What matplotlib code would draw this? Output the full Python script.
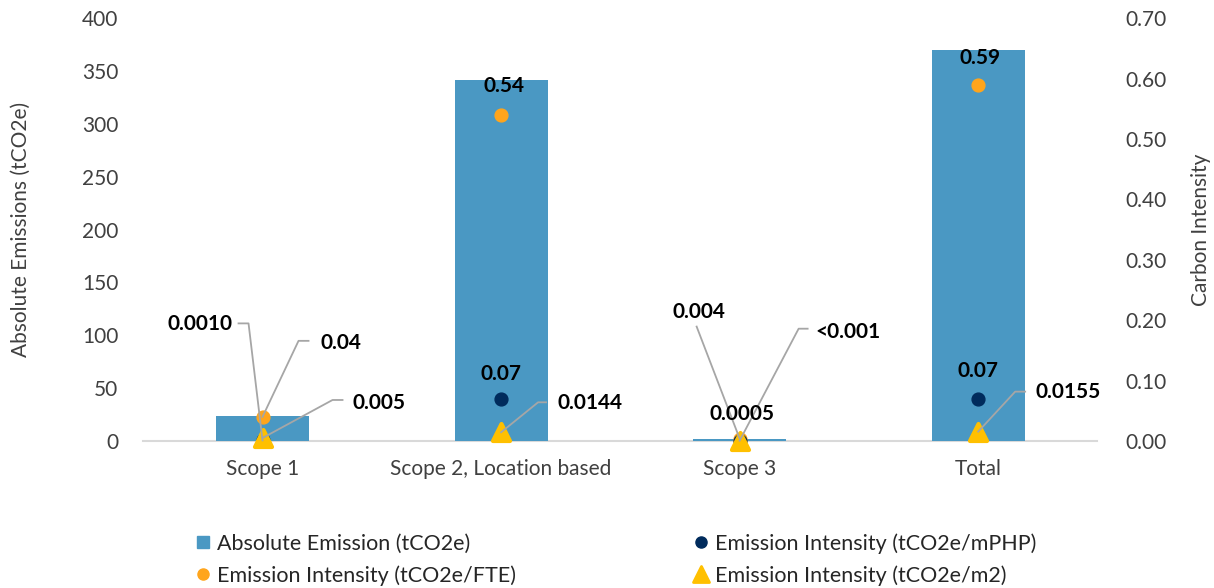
import matplotlib
matplotlib.use("Agg")
import matplotlib.pyplot as plt
from matplotlib.lines import Line2D
from matplotlib.markers import MarkerStyle
from matplotlib.transforms import IdentityTransform

plt.rcParams['font.family'] = ['Lato', 'DejaVu Sans']

categories = ["Scope 1", "Scope 2, Location based", "Scope 3", "Total"]
absolute = [24, 342, 2, 370]              # tCO2e
per_fte = [0.04, 0.54, 0.004, 0.59]       # tCO2e/FTE
per_mphp = [0.0010, 0.07, 0.0005, 0.07]   # tCO2e/mPHP
per_m2 = [0.005, 0.0144, 0.0005, 0.0155]  # tCO2e/m2

fte_labels = ["0.04", "0.54", "0.004", "0.59"]
mphp_labels = ["0.0010", "0.07", "0.0005", "0.07"]
m2_labels = ["0.005", "0.0144", "<0.001", "0.0155"]

BAR = "#4a98c3"
ORANGE = "#ffa51c"
NAVY = "#002b5c"
YELLOW = "#ffc000"
LEADER = "#a6a6a6"
TICK = "#404040"
FS = 15

fig = plt.figure(figsize=(12.14, 5.88), dpi=100)
fig.subplots_adjust(left=0.118, right=0.904, top=0.969, bottom=0.25)
ax = fig.add_subplot(111)
ax2 = ax.twinx()

x = list(range(len(categories)))
ax.bar(x, absolute, width=0.39, color=BAR, zorder=3)
ax.set_xlim(-0.5, 3.5)
ax.set_ylim(0, 400)
ax.set_yticks(range(0, 401, 50))
ax2.set_ylim(0, 0.70)
ax2.set_yticks([i / 10 for i in range(8)])
ax2.set_yticklabels(["%.2f" % (i / 10) for i in range(8)])
ax.set_xticks(x)
ax.set_xticklabels(categories)

for a in (ax, ax2):
    for s in a.spines.values():
        s.set_visible(False)
    a.tick_params(length=0, labelsize=FS, labelcolor=TICK)
ax.spines['bottom'].set_visible(True)
ax.spines['bottom'].set_color("#d9d9d9")
ax.spines['bottom'].set_linewidth(1.5)
ax.tick_params(axis='x', pad=13)
ax.tick_params(axis='y', pad=18)
ax2.tick_params(axis='y', pad=20)

ax.set_ylabel("Absolute Emissions (tCO2e)", fontsize=FS, color=TICK, labelpad=37)
ax2.set_ylabel("Carbon Intensity", fontsize=FS, color=TICK, labelpad=18)

tri = MarkerStyle('^', joinstyle='round')
ax2.scatter(x, per_fte, s=85, color=ORANGE, zorder=3, clip_on=False)
ax2.scatter(x, per_mphp, s=85, color=NAVY, zorder=3, clip_on=False)
ax2.scatter(x, per_m2, s=150, marker=tri, color=YELLOW, edgecolors=YELLOW,
            linewidths=3, zorder=4, clip_on=False)


def leader(xv, yv, pts):
    # gray leader line drawn in pixel offsets from the data point
    px, py = ax2.transData.transform((xv, yv))
    xs = [px] + [px + dx for dx, dy in pts]
    ys = [py] + [py + dy for dx, dy in pts]
    ax2.add_line(Line2D(xs, ys, transform=IdentityTransform(), color=LEADER,
                        lw=1.3, clip_on=False, zorder=5))


def label(xv, yv, text, dx, dy, ha):
    ax2.annotate(text, (xv, yv), xytext=(dx, dy), textcoords='offset pixels',
                 ha=ha, va='center', fontsize=FS, fontweight='bold',
                 color='black', zorder=6)


# label offsets in pixels: (dx, dy, ha, leader points)
fte_pos = [(58, 74, 'left', [(36, 76), (46, 76)]),
           (3, 29, 'center', None),
           (-41, 127, 'center', [(-43, 112)]),
           (2, 27, 'center', None)]
mphp_pos = [(-30, 116, 'right', [(-14, 117), (-24, 117)]),
            (0, 25, 'center', None),
            (2, 27, 'center', None),
            (0, 28, 'center', None)]
m2_pos = [(90, 35, 'left', [(70, 38), (80, 38)]),
          (56, 29, 'left', [(37, 30), (45, 30)]),
          (76, 109, 'left', [(59, 112), (68, 112)]),
          (57, 40, 'left', [(37, 40), (47, 40)])]

for vals, texts, pos in ((per_fte, fte_labels, fte_pos),
                         (per_mphp, mphp_labels, mphp_pos),
                         (per_m2, m2_labels, m2_pos)):
    for i, (v, t, p) in enumerate(zip(vals, texts, pos)):
        dx, dy, ha, pts = p
        if pts:
            leader(i, v, pts)
        label(i, v, t, dx, dy, ha)

handles = [
    Line2D([], [], ls='none', marker='s', ms=8, color=BAR),
    Line2D([], [], ls='none', marker='o', ms=8, color=ORANGE),
    Line2D([], [], ls='none', marker='o', ms=8, color=NAVY),
    Line2D([], [], ls='none', marker=tri, ms=11, color=YELLOW, mew=2),
]
names = ["Absolute Emission (tCO2e)", "Emission Intensity (tCO2e/FTE)",
         "Emission Intensity (tCO2e/mPHP)", "Emission Intensity (tCO2e/m2)"]
fig.legend(handles, names, ncol=2, loc='upper left', bbox_to_anchor=(0.162, 0.093),
           frameon=False, fontsize=15.5, handlelength=0.6, handletextpad=0.35,
           columnspacing=8.3, labelspacing=0.53, borderaxespad=0,
           borderpad=0, labelcolor='#262626')

fig.savefig("out.png", dpi=100)
